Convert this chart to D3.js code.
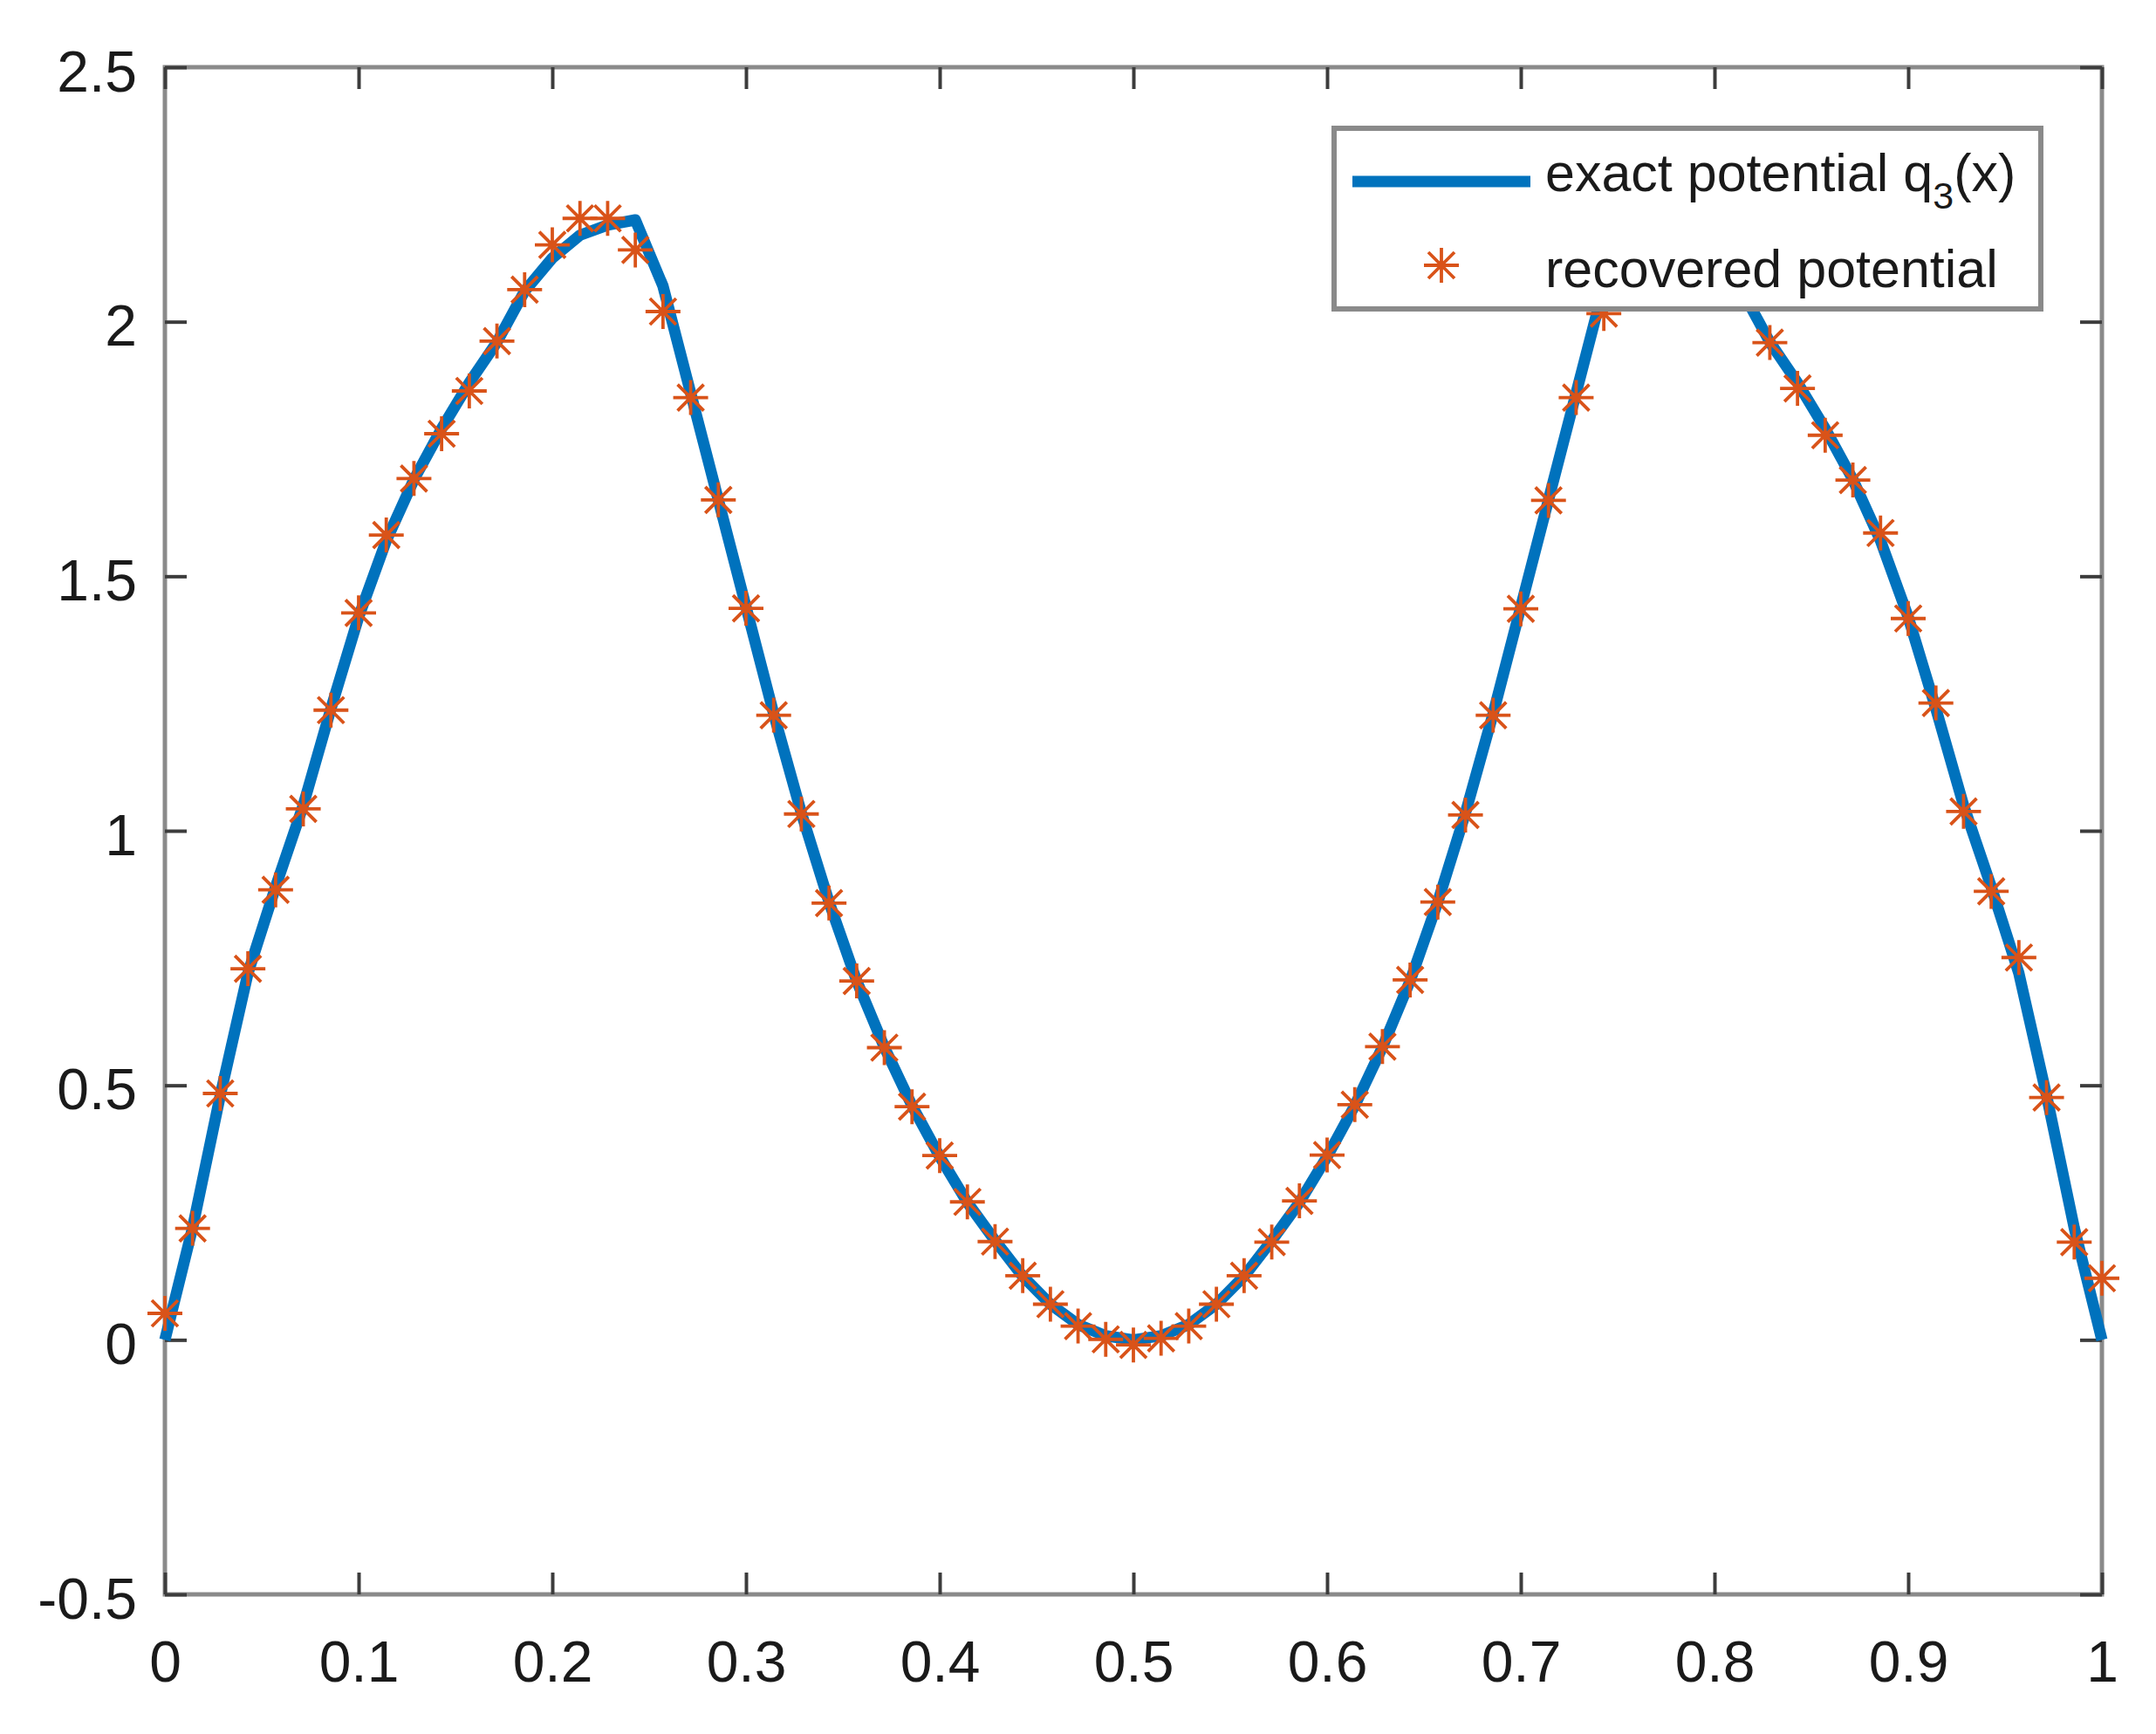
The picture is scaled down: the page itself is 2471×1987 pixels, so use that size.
<!DOCTYPE html>
<meta charset="utf-8">
<style>
body { margin: 0; background: #fff; }
.chart text { font-family: "Liberation Sans", Arial, sans-serif; fill: #1a1a1a; }
.tick line { stroke: #3c3c3c; stroke-width: 4; }
.axis .domain { display: none; }
</style>
<svg class="chart"></svg>
<script src="https://d3js.org/d3.v7.min.js"></script>
<script>

var width = 2471,
    height = 1987;

// plot box in page pixels
var plotL = 189, plotR = 2409, plotT = 77, plotB = 1827;

var xTicks = [0, 0.1, 0.2, 0.3, 0.4, 0.5, 0.6, 0.7, 0.8, 0.9, 1];
var xTickLabels = ["0", "0.1", "0.2", "0.3", "0.4", "0.5", "0.6", "0.7", "0.8", "0.9", "1"];
var yTicks = [-0.5, 0, 0.5, 1, 1.5, 2, 2.5];
var yTickLabels = ["-0.5", "0", "0.5", "1", "1.5", "2", "2.5"];

// 71 grid points x = i/70
var gridN = 70;

// exact potential q3(x) at the grid points
var exactVals = [
  0.000, 0.220, 0.480, 0.720, 0.890, 1.050, 1.240, 1.420, 1.570, 1.690,
  1.790, 1.880, 1.960, 2.060, 2.125, 2.170, 2.190, 2.200, 2.070, 1.860,
  1.650, 1.440, 1.230, 1.035, 0.860, 0.705, 0.575, 0.460, 0.360, 0.270,
  0.195, 0.125, 0.070, 0.030, 0.008, 0.000, 0.008, 0.030, 0.070, 0.125,
  0.195, 0.270, 0.360, 0.460, 0.575, 0.705, 0.860, 1.035, 1.230, 1.440,
  1.650, 1.860, 2.070, 2.200, 2.190, 2.170, 2.125, 2.060, 1.960, 1.880,
  1.790, 1.690, 1.570, 1.420, 1.240, 1.050, 0.890, 0.720, 0.480, 0.220,
  0.000
];

// recovered potential at the grid points
var recoveredVals = [
  0.052, 0.219, 0.484, 0.729, 0.884, 1.043, 1.237, 1.428, 1.581, 1.692,
  1.780, 1.864, 1.962, 2.063, 2.151, 2.203, 2.203, 2.141, 2.020, 1.851,
  1.650, 1.437, 1.227, 1.033, 0.858, 0.705, 0.574, 0.458, 0.362, 0.271,
  0.193, 0.126, 0.070, 0.027, 0.001, -0.010, 0.003, 0.027, 0.070, 0.126,
  0.192, 0.273, 0.363, 0.462, 0.576, 0.707, 0.860, 1.031, 1.227, 1.436,
  1.649, 1.851, 2.016, 2.140, 2.200, 2.200, 2.150, 2.060, 1.959, 1.869,
  1.777, 1.689, 1.585, 1.417, 1.251, 1.038, 0.881, 0.751, 0.476, 0.192,
  0.121
];

var seriesNames = ["exact potential q", "recovered potential"];

var x = d3.scaleLinear().domain([0, 1]).range([plotL, plotR]);
var y = d3.scaleLinear().domain([-0.5, 2.5]).range([plotB, plotT]);

var svg = d3.select(".chart")
    .attr("width", width)
    .attr("height", height);

svg.append("rect")
    .attr("width", width)
    .attr("height", height)
    .attr("fill", "#fff");

// box
svg.append("rect")
    .attr("x", plotL)
    .attr("y", plotT)
    .attr("width", plotR - plotL)
    .attr("height", plotB - plotT)
    .attr("fill", "none")
    .attr("stroke", "#8a8a8a")
    .attr("stroke-width", 5);

var tickLen = 25;

var gx = svg.append("g")
    .attr("class", "axis")
    .attr("transform", "translate(0," + plotB + ")")
    .call(d3.axisBottom(x).tickValues(xTicks).tickSize(-tickLen)
      .tickFormat(function(d, i) { return xTickLabels[i]; }));
gx.selectAll("text")
    .attr("dy", null)
    .attr("y", 100)
    .style("font-size", "66px")
    .attr("fill", "#1a1a1a");

svg.append("g")
    .attr("class", "axis")
    .attr("transform", "translate(0," + plotT + ")")
    .call(d3.axisTop(x).tickValues(xTicks).tickSize(-tickLen).tickFormat(""));

var gy = svg.append("g")
    .attr("class", "axis")
    .attr("transform", "translate(" + plotL + ",0)")
    .call(d3.axisLeft(y).tickValues(yTicks).tickSize(-tickLen)
      .tickFormat(function(d, i) { return yTickLabels[i]; }));
gy.selectAll("text")
    .attr("dy", null)
    .attr("y", 27)
    .attr("x", -32)
    .style("font-size", "66px")
    .attr("fill", "#1a1a1a");

svg.append("g")
    .attr("class", "axis")
    .attr("transform", "translate(" + plotR + ",0)")
    .call(d3.axisRight(y).tickValues(yTicks).tickSize(-tickLen).tickFormat(""));

svg.selectAll(".axis text").attr("font-family", "Liberation Sans, Arial, sans-serif");

// exact curve
var line = d3.line()
    .x(function(d, i) { return x(i / gridN); })
    .y(function(d) { return y(d); });

svg.append("path")
    .datum(exactVals)
    .attr("d", line)
    .attr("fill", "none")
    .attr("stroke", "#0072BD")
    .attr("stroke-width", 13)
    .attr("stroke-linejoin", "round");

// asterisk marker, 8 arms
function star(r) {
  var d = r * 0.75;
  return "M" + (-r) + ",0L" + r + ",0M0," + (-r) + "L0," + r +
         "M" + (-d) + "," + (-d) + "L" + d + "," + d +
         "M" + (-d) + "," + d + "L" + d + "," + (-d);
}

svg.append("g")
  .selectAll("path")
    .data(recoveredVals)
  .enter().append("path")
    .attr("transform", function(d, i) { return "translate(" + x(i / gridN) + "," + y(d) + ")"; })
    .attr("d", star(20))
    .attr("fill", "none")
    .attr("stroke", "#D95319")
    .attr("stroke-width", 3.8);

// legend
var legend = svg.append("g");

legend.append("rect")
    .attr("x", 1529)
    .attr("y", 147)
    .attr("width", 810)
    .attr("height", 207)
    .attr("fill", "#fff")
    .attr("stroke", "#8a8a8a")
    .attr("stroke-width", 6);

legend.append("line")
    .attr("x1", 1550).attr("x2", 1754)
    .attr("y1", 208).attr("y2", 208)
    .attr("stroke", "#0072BD")
    .attr("stroke-width", 13);

var t1 = legend.append("text")
    .attr("x", 1771)
    .attr("y", 219)
    .style("font-size", "61px");
t1.append("tspan").text(seriesNames[0]);
t1.append("tspan").attr("dy", 20).style("font-size", "43px").text("3");
t1.append("tspan").attr("dy", -20).text("(x)");

legend.append("path")
    .attr("transform", "translate(1652,304)")
    .attr("d", star(20))
    .attr("fill", "none")
    .attr("stroke", "#D95319")
    .attr("stroke-width", 3.8);

legend.append("text")
    .attr("x", 1771)
    .attr("y", 329)
    .style("font-size", "61px")
    .text(seriesNames[1]);

</script>
